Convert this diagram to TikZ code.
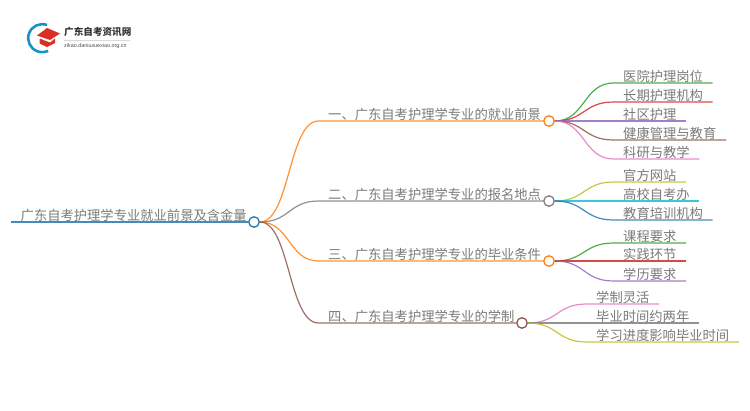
\documentclass[tikz,border=0pt]{standalone}
\usepackage{fontspec}
\setmainfont{Noto Sans CJK SC}
\setsansfont{Liberation Sans}
\definecolor{tblue}{HTML}{1F77B4}
\definecolor{torange}{HTML}{FF7F0E}
\definecolor{tgreen}{HTML}{2CA02C}
\definecolor{tred}{HTML}{D62728}
\definecolor{tpurple}{HTML}{9467BD}
\definecolor{tbrown}{HTML}{8C564B}
\definecolor{tpink}{HTML}{E377C2}
\definecolor{tgray}{HTML}{7F7F7F}
\definecolor{tolive}{HTML}{BCBD22}
\definecolor{tcyan}{HTML}{17BECF}
\tikzset{
	topic/.style={anchor=south west, inner xsep=9.5pt, inner ysep=1pt, text depth=0pt, text=black!52, font=\fontsize{13.3pt}{14pt}\selectfont},
	hub/.style={circle, draw=#1, fill=white, line width=1.3pt, minimum size=10.5pt, inner sep=0pt},
	branch/.style={#1, line width=1.2pt, opacity=0.85}
}

\begin{document}
\begin{tikzpicture}[x=1pt, y=-1pt]
	\useasboundingbox (0,0) rectangle (750,410);
	
	% Logo
	\draw[tblue!80!cyan, line width=2.6pt] (47,25) arc[start angle=-70, end angle=-295, radius=14];
	\fill[tred!90!orange] (37,35.5) -- (47,28) -- (60,33.5) -- (50,40) -- cycle;
	\fill[tred!90!orange] (39.5,38.5) -- (50,42.5) -- (55,38.5) -- (55,43) -- (47,47) -- (39.5,43.5) -- cycle;
	\node[anchor=west, inner sep=0pt, font=\fontsize{9.6pt}{10pt}\selectfont\bfseries, text=black!80] (logotitle) at (64,31.5) {广东自考资讯网};
	\node[anchor=west, inner sep=0pt, font=\sffamily\fontsize{5.4pt}{6pt}\selectfont, text=black!70] (logosub) at (64,46) {zikao.daniuxuexiao.org.cn};
	\draw[black!15, line width=0.4pt] (logotitle.west |- 0,40) -- (130,40);
	
	% Root
	\node[topic] (R) at (11,222) {广东自考护理学专业就业前景及含金量};
	\node[hub=tblue] (Rh) at (254,222) {};
	\draw[branch=tblue] (R.south west) -- (Rh.west);
	
	% Main branches
	\node[topic] (A) at (318.5,121) {一、广东自考护理学专业的就业前景};
	\node[topic] (B) at (318.5,201) {二、广东自考护理学专业的报名地点};
	\node[topic] (C) at (318.5,261) {三、广东自考护理学专业的毕业条件};
	\node[topic] (D) at (318.5,323) {四、广东自考护理学专业的学制};
	\node[hub=torange] (Ah) at (549,121) {};
	\node[hub=tgray] (Bh) at (549,201) {};
	\node[hub=torange] (Ch) at (549,261) {};
	\node[hub=tbrown] (Dh) at (522,323) {};
	\draw[branch=torange] (Rh.east) .. controls +(30,0) and +(-30,0) .. (A.south west) -- (Ah.west);
	\draw[branch=tgray] (Rh.east) .. controls +(30,0) and +(-30,0) .. (B.south west) -- (Bh.west);
	\draw[branch=torange] (Rh.east) .. controls +(30,0) and +(-30,0) .. (C.south west) -- (Ch.west);
	\draw[branch=tbrown] (Rh.east) .. controls +(30,0) and +(-30,0) .. (D.south west) -- (Dh.west);
	
	% Leaves of the first branch
	\node[topic] (A1) at (613.5,83) {医院护理岗位};
	\node[topic] (A2) at (613.5,102) {长期护理机构};
	\node[topic] (A3) at (613.5,121) {社区护理};
	\node[topic] (A4) at (613.5,140) {健康管理与教育};
	\node[topic] (A5) at (613.5,159) {科研与教学};
	\draw[branch=tgreen] (Ah.east) .. controls +(30,0) and +(-30,0) .. (A1.south west) -- (A1.south east);
	\draw[branch=tred] (Ah.east) .. controls +(30,0) and +(-30,0) .. (A2.south west) -- (A2.south east);
	\draw[branch=tpurple] (Ah.east) -- (A3.south west) -- (A3.south east);
	\draw[branch=tbrown] (Ah.east) .. controls +(30,0) and +(-30,0) .. (A4.south west) -- (A4.south east);
	\draw[branch=tpink] (Ah.east) .. controls +(30,0) and +(-30,0) .. (A5.south west) -- (A5.south east);
	
	% Leaves of the second branch
	\node[topic] (B1) at (613.5,182) {官方网站};
	\node[topic] (B2) at (613.5,201) {高校自考办};
	\node[topic] (B3) at (613.5,220) {教育培训机构};
	\draw[branch=tolive] (Bh.east) .. controls +(30,0) and +(-30,0) .. (B1.south west) -- (B1.south east);
	\draw[branch=tcyan] (Bh.east) -- (B2.south west) -- (B2.south east);
	\draw[branch=tblue] (Bh.east) .. controls +(30,0) and +(-30,0) .. (B3.south west) -- (B3.south east);
	
	% Leaves of the third branch
	\node[topic] (C1) at (613.5,243) {课程要求};
	\node[topic] (C2) at (613.5,261) {实践环节};
	\node[topic] (C3) at (613.5,281) {学历要求};
	\draw[branch=tgreen] (Ch.east) .. controls +(30,0) and +(-30,0) .. (C1.south west) -- (C1.south east);
	\draw[branch=tred] (Ch.east) -- (C2.south west) -- (C2.south east);
	\draw[branch=tpurple] (Ch.east) .. controls +(30,0) and +(-30,0) .. (C3.south west) -- (C3.south east);
	
	% Leaves of the fourth branch
	\node[topic] (D1) at (586.5,304) {学制灵活};
	\node[topic] (D2) at (586.5,323) {毕业时间约两年};
	\node[topic] (D3) at (586.5,342) {学习进度影响毕业时间};
	\draw[branch=tpink] (Dh.east) .. controls +(30,0) and +(-30,0) .. (D1.south west) -- (D1.south east);
	\draw[branch=tgray] (Dh.east) -- (D2.south west) -- (D2.south east);
	\draw[branch=tolive] (Dh.east) .. controls +(30,0) and +(-30,0) .. (D3.south west) -- (D3.south east);
\end{tikzpicture}
\end{document}
